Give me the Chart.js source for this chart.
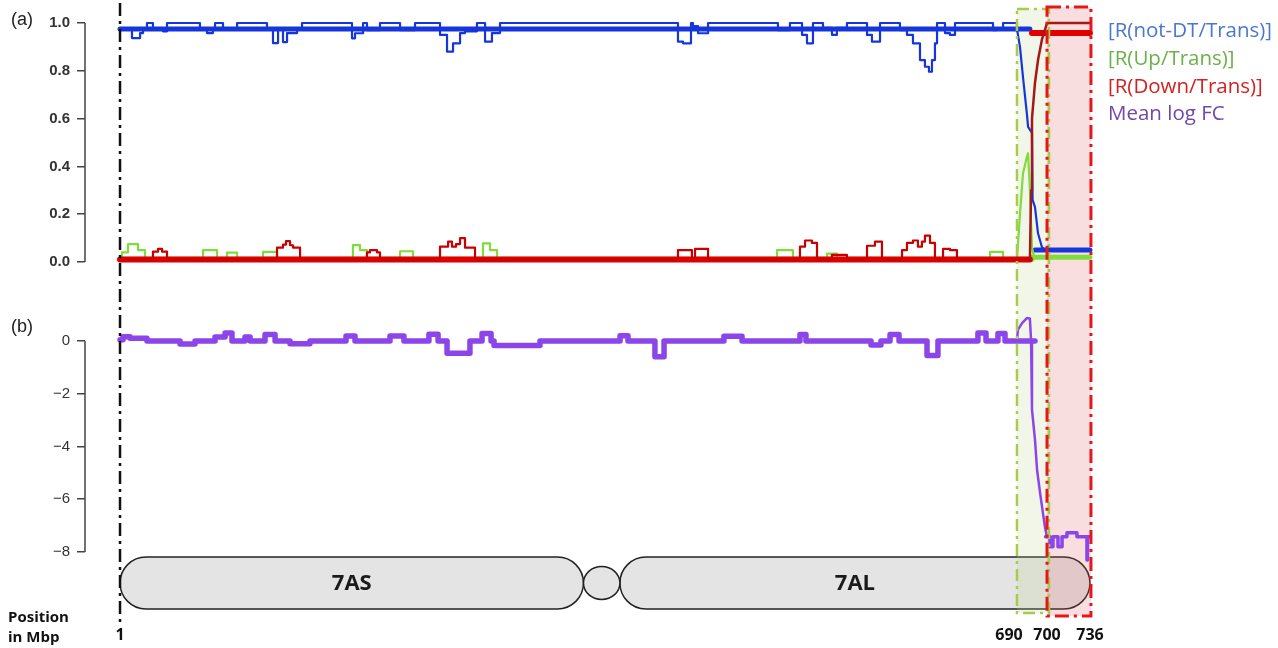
<!DOCTYPE html>
<html>
<head>
<meta charset="utf-8">
<title>Chromosome 7A ratios</title>
<script src="https://cdn.jsdelivr.net/npm/chart.js@4.4.1/dist/chart.umd.min.js"></script>
<style>
  html, body { margin: 0; padding: 0; background: #fff; overflow: hidden; }
  #wrap { position: relative; width: 1278px; height: 648px; overflow: hidden; }
  #myChart { position: absolute; left: 0; top: 0; }
  .lbl { position: absolute; white-space: nowrap; line-height: 1; }
  .key { left: 1108px; font-family: "Open Sans", sans-serif; font-size: 20.5px; }
  .panel { left: 11px; font-family: "Liberation Sans", Arial, sans-serif; font-size: 18px; color: #222; }
  .pos { left: 8px; font-family: "Open Sans", sans-serif; font-size: 15px; font-weight: bold; color: #111; }
</style>
</head>
<body>
<div id="wrap">
  <canvas id="myChart" width="1278" height="648"></canvas>
  <div class="lbl panel" style="top:10px">(a)</div>
  <div class="lbl panel" style="top:317px">(b)</div>
  <div class="lbl pos" style="top:609px">Position</div>
  <div class="lbl pos" style="top:629px">in Mbp</div>
  <div class="lbl key" id="key0" style="top:19px; color:#4a78cc"></div>
  <div class="lbl key" id="key1" style="top:47px; color:#6cb04a"></div>
  <div class="lbl key" id="key2" style="top:75px; color:#d42020"></div>
  <div class="lbl key" id="key3" style="top:102px; color:#7048a8"></div>
</div>
<script>
'use strict'

// axis ticks
const xTickValues = [1, 690, 700, 736];
const ratioTicks = [0, 0.2, 0.4, 0.6, 0.8, 1.0];
const logFcTicks = [0, -2, -4, -6, -8];

const seriesNames = ['[R(not-DT/Trans)]', '[R(Up/Trans)]', '[R(Down/Trans)]', 'Mean log FC'];

// highlighted regions and chromosome arms, in Mbp
const upRegion = [690, 700];
const downRegion = [700, 736];
const chromArmNames = ['7AS', '7AL'];
const chromArmStart = [1, 385];
const chromArmEnd = [357, 736];

// R(not-DT/Trans), window values (step), then the drop after 690 and the wide smoothed line
const notDtPos = [1, 10.2, 16.4, 18.7, 21.7, 26.3, 34.0, 37.1, 62.4, 67.8, 72.4, 74.0, 80.1, 90.9, 113.9, 118.5, 122.4, 126.2, 129.3, 137.0,
  140.8, 179.2, 181.5, 187.7, 190.7, 200.7, 216.1, 227.6, 246.8, 252.2, 256.8, 262.2, 266.0, 275.2, 281.4, 286.7, 292.9, 429.6, 433.5, 439.6,
  441.1, 445.0, 452.7, 506.4, 515.6, 524.9, 528.7, 533.3, 541.0, 547.9, 551.7, 559.4, 574.8, 578.6, 584.8, 600.1, 605.5, 610.1, 615.5, 619.3,
  622.4, 624.7, 627.0, 628.6, 634.7, 638.5, 642.4, 671.6, 674.6, 679.3, 690];
const notDtVal = [0.975, 0.937, 0.958, 0.975, 1.0, 0.975, 0.965, 1.0, 0.975, 0.958, 0.975, 1.0, 0.975, 1.0, 0.975, 0.916, 0.975, 0.92, 0.958, 0.975,
  1.0, 0.936, 0.957, 1.0, 0.97, 1.0, 0.97, 1.0, 0.95, 0.88, 0.915, 0.958, 0.965, 1.0, 0.922, 0.958, 1.0, 0.922, 0.915, 1.0,
  0.987, 0.957, 1.0, 0.97, 1.0, 0.95, 0.915, 1.0, 0.98, 0.95, 0.98, 1.0, 0.95, 0.922, 1.0, 0.97, 0.95, 0.915, 0.845, 0.817,
  0.796, 0.845, 0.915, 1.0, 0.958, 0.95, 1.0, 0.97, 0.975, 1.0, 0.975];
const notDtTailPos = [690, 691, 692, 693.3, 693.7, 695, 695.2, 696, 697, 698.3, 699.3];
const notDtTailVal = [0.975, 0.9, 0.774, 0.62, 0.565, 0.54, 0.26, 0.23, 0.12, 0.063, 0.05];
const notDtWidePos = [1, 694.3, 694.4, 696, 736];
const notDtWideVal = [0.975, 0.975, null, 0.05, 0.05];

// R(Up/Trans)
const upPos = [1, 2.5, 7.1, 14.8, 20.2, 64.8, 75.5, 83.2, 90.9, 110.8, 121.6, 179.9, 185.3, 190.7, 216.1, 226.1, 279.8, 285.2, 290.6, 505.7,
  517.9, 544.1, 551.7, 669.3, 679.3, 690];
const upVal = [0.015, 0.04, 0.075, 0.05, 0.015, 0.05, 0.015, 0.039, 0.015, 0.042, 0.015, 0.071, 0.05, 0.015, 0.045, 0.015, 0.078, 0.05, 0.015, 0.05,
  0.015, 0.035, 0.015, 0.042, 0.015, 0.015];
const upTailPos = [690, 691, 692, 693.3, 693.7, 694.3, 695, 695.7];
const upTailVal = [0.015, 0.2, 0.37, 0.44, 0.455, 0.3, 0.06, 0.02];
const upWidePos = [1, 695, 736];
const upWideVal = [0.012, 0.02, 0.02];

// R(Down/Trans)
const downPos = [1, 26.3, 30.2, 33.3, 37.1, 121.6, 126.2, 128.5, 131.6, 133.9, 139.3, 190.7, 193.0, 198.4, 200.7, 246.8, 253.0, 256.0, 259.1, 262.2,
  266.0, 273.7, 429.6, 440.3, 442.7, 452.7, 523.3, 527.2, 532.5, 536.4, 547.9, 559.4, 574.8, 580.9, 586.3, 601.7, 605.5, 610.1, 613.9, 617.0,
  619.3, 623.2, 627.0, 633.2, 638.5, 643.9, 694.3];
const downVal = [0.01, 0.043, 0.055, 0.043, 0.01, 0.06, 0.073, 0.087, 0.07, 0.06, 0.01, 0.04, 0.05, 0.04, 0.01, 0.064, 0.085, 0.064, 0.075, 0.1,
  0.06, 0.01, 0.05, 0.01, 0.055, 0.01, 0.064, 0.09, 0.08, 0.01, 0.03, 0.01, 0.068, 0.085, 0.01, 0.05, 0.08, 0.09, 0.064, 0.085,
  0.11, 0.08, 0.01, 0.055, 0.05, 0.01, 0.01];
const downTailPos = [694.3, 694.7, 695, 696, 697, 698.3, 700, 736];
const downTailVal = [0.01, 0.3, 0.6, 0.75, 0.845, 0.93, 1.0, 1.0];
const downWidePos = [1, 694.3, 694.4, 695, 736];
const downWideVal = [0.01, 0.01, null, 0.958, 0.958];

// mean log FC (panel b)
const logFcPos = [1, 3.3, 8.7, 21.7, 47.1, 58.6, 74.0, 81.7, 87.0, 97.0, 100.9, 112.4, 120.1, 131.6, 146.9, 174.6, 181.5, 208.4, 219.1, 238.3,
  245.3, 252.2, 269.8, 279.1, 286.0, 288.3, 323.6, 385.1, 391.2, 411.9, 418.9, 464.9, 478.8, 523.3, 527.9, 577.9, 585.5, 592.5, 599.4, 620.9,
  629.3, 660.0, 666.2, 675.4, 680.8, 696];
const logFcVal = [0.05, 0.16, 0.1, 0.0, -0.11, 0.0, 0.15, 0.3, 0.0, 0.15, 0.0, 0.25, 0.0, -0.1, 0.0, 0.19, 0.0, 0.19, 0.0, 0.26,
  0.0, -0.46, 0.0, 0.28, 0.0, -0.17, 0.0, 0.2, 0.0, -0.6, 0.0, 0.18, 0.0, 0.25, 0.0, -0.15, 0.0, 0.25, 0.0, -0.55,
  0.0, 0.3, 0.0, 0.28, 0.0, 0.0];
const logFcTailPos = [690, 690.3, 691.7, 693.3, 694.3, 694.7, 695, 696, 696.7, 697.7, 699.3, 700];
const logFcTailVal = [0.0, 0.42, 0.68, 0.87, 0.85, 0.0, -2.6, -3.75, -4.9, -5.77, -7.05, -7.43];
const logFcEndPos = [699.5, 702.5, 705.0, 709.2, 712.6, 716.7, 725.1, 733.5, 733.9, 736];
const logFcEndVal = [-7.42, -7.8, -7.42, -7.8, -7.42, -7.27, -7.42, -8.3, -7.42, -7.42];

seriesNames.forEach((n, i) => { document.getElementById('key' + i).textContent = n; });

// the figure is not drawn to scale after 690 Mbp, so the x axis is stretched piecewise
const warpKnots = [1, 690, 700, 736];
const warpPlaces = [0.0345, 0.9182, 0.9478, 0.9901];

function warp(v) {
  let i = 0;
  while (i < warpKnots.length - 2 && v > warpKnots[i + 1]) i++;
  const t = (v - warpKnots[i]) / (warpKnots[i + 1] - warpKnots[i]);
  return warpPlaces[i] + t * (warpPlaces[i + 1] - warpPlaces[i]);
}

function unwarp(d) {
  let i = 0;
  while (i < warpPlaces.length - 2 && d > warpPlaces[i + 1]) i++;
  const t = (d - warpPlaces[i]) / (warpPlaces[i + 1] - warpPlaces[i]);
  return warpKnots[i] + t * (warpKnots[i + 1] - warpKnots[i]);
}

class WarpScale extends Chart.LinearScale {
  getPixelForValue(value) {
    if (value === null || value === undefined) return NaN;
    return this.getPixelForDecimal(warp(value));
  }
  getValueForPixel(pixel) {
    return unwarp(this.getDecimalForPixel(pixel));
  }
}
WarpScale.id = 'warp';
Chart.register(WarpScale);

function pts(pos, vals) {
  return pos.map((p, i) => ({ x: p, y: vals[i] }));
}

function line(pos, vals, color, width, axis, stepped, order) {
  return {
    data: pts(pos, vals),
    borderColor: color,
    borderWidth: width,
    yAxisID: axis,
    stepped: stepped,
    order: order,
    pointRadius: 0,
    borderJoinStyle: 'round',
    borderCapStyle: 'round',
    fill: false
  };
}

// fixed sizes so the plot area lands where the figure has it
function fitY(s) {
  s.width = 85;
  s.paddingTop = 0;
  s.paddingBottom = 0;
}

function fitX(s) {
  s.height = 33;
  s.paddingLeft = 0;
  s.paddingRight = 0;
}

const blue = '#1636dc';
const green = '#7fdc3c';
const red = '#e00000';

function capsule(ctx, x0, x1, top, bottom) {
  const r = (bottom - top) / 2;
  ctx.beginPath();
  ctx.moveTo(x0 + r, top);
  ctx.lineTo(x1 - r, top);
  ctx.arc(x1 - r, top + r, r, -Math.PI / 2, Math.PI / 2);
  ctx.lineTo(x0 + r, bottom);
  ctx.arc(x0 + r, top + r, r, Math.PI / 2, Math.PI * 1.5);
  ctx.closePath();
}

const decorPlugin = {
  id: 'decor',
  beforeDatasetsDraw(chart) {
    const ctx = chart.ctx;
    const area = chart.chartArea;
    const xs = chart.scales.x;
    ctx.save();

    // chromosome 7A
    const top = area.bottom - 58, bottom = area.bottom - 6;
    ctx.lineWidth = 1.5;
    ctx.strokeStyle = '#222';
    ctx.fillStyle = '#e4e4e4';
    for (let i = 0; i < chromArmNames.length; i++) {
      capsule(ctx, xs.getPixelForValue(chromArmStart[i]), xs.getPixelForValue(chromArmEnd[i]), top, bottom);
      ctx.fill();
      ctx.stroke();
    }
    const c0 = xs.getPixelForValue(chromArmEnd[0]), c1 = xs.getPixelForValue(chromArmStart[1]);
    ctx.beginPath();
    ctx.ellipse((c0 + c1) / 2, (top + bottom) / 2, (c1 - c0) / 2, 16.5, 0, 0, Math.PI * 2);
    ctx.fill();
    ctx.stroke();
    ctx.fillStyle = '#1a1a1a';
    ctx.font = 'bold 22px "Open Sans"';
    ctx.textAlign = 'center';
    ctx.textBaseline = 'middle';
    for (let i = 0; i < chromArmNames.length; i++) {
      const mid = (xs.getPixelForValue(chromArmStart[i]) + xs.getPixelForValue(chromArmEnd[i])) / 2;
      ctx.fillText(chromArmNames[i], mid, (top + bottom) / 2 + 1);
    }

    // shaded regions
    const ux0 = xs.getPixelForValue(upRegion[0]), ux1 = xs.getPixelForValue(upRegion[1]);
    const dx0 = xs.getPixelForValue(downRegion[0]), dx1 = xs.getPixelForValue(downRegion[1]);
    ctx.fillStyle = 'rgba(185, 212, 140, 0.2)';
    ctx.fillRect(ux0, area.top + 4, ux1 - ux0 + 2, area.bottom - area.top - 6);
    ctx.fillStyle = 'rgba(220, 90, 90, 0.2)';
    ctx.fillRect(dx0, area.top + 2, dx1 - dx0 + 1, area.bottom - area.top - 1);
    ctx.restore();
  },
  afterDatasetsDraw(chart) {
    const ctx = chart.ctx;
    const area = chart.chartArea;
    const xs = chart.scales.x;
    ctx.save();

    // R style axis lines, only from first to last tick
    ctx.strokeStyle = '#444';
    ctx.lineWidth = 1.5;
    ['y', 'y2'].forEach(id => {
      const s = chart.scales[id];
      const t = s.ticks;
      ctx.beginPath();
      ctx.moveTo(s.right, s.getPixelForValue(t[0].value));
      ctx.lineTo(s.right, s.getPixelForValue(t[t.length - 1].value));
      ctx.stroke();
    });

    // region outlines
    const ux0 = xs.getPixelForValue(upRegion[0]), ux1 = xs.getPixelForValue(upRegion[1]) + 2;
    ctx.setLineDash([12, 5, 3, 5]);
    ctx.strokeStyle = '#a8cc4a';
    ctx.lineWidth = 2.5;
    ctx.strokeRect(ux0, area.top + 4, ux1 - ux0, area.bottom - area.top - 6);

    const dx0 = xs.getPixelForValue(downRegion[0]), dx1 = xs.getPixelForValue(downRegion[1]) + 1;
    ctx.setLineDash([14, 5, 3, 5]);
    ctx.strokeStyle = '#e8161b';
    ctx.lineWidth = 3;
    ctx.strokeRect(dx0, area.top + 2, dx1 - dx0, area.bottom - area.top - 1);

    // start of the chromosome
    const sx = xs.getPixelForValue(xTickValues[0]);
    ctx.setLineDash([13, 5, 3, 5]);
    ctx.strokeStyle = '#111';
    ctx.lineWidth = 2.5;
    ctx.beginPath();
    ctx.moveTo(sx, area.top - 2);
    ctx.lineTo(sx, area.bottom + 10);
    ctx.stroke();
    ctx.restore();
  }
};

const ctx = document.getElementById('myChart').getContext('2d');

const myChart = new Chart(ctx, {
  type: 'line',
  data: {
    datasets: [
      line(downPos, downVal, '#c80000', 2.2, 'y', true, 0),
      line(downTailPos, downTailVal, '#a51818', 2.5, 'y', false, 1),
      line(downWidePos, downWideVal, red, 6, 'y', true, 2),
      line(upPos, upVal, green, 2.2, 'y', true, 3),
      line(upTailPos, upTailVal, green, 2.2, 'y', false, 4),
      line(upWidePos, upWideVal, green, 5, 'y', true, 5),
      line(notDtPos, notDtVal, blue, 2.2, 'y', true, 6),
      line(notDtTailPos, notDtTailVal, blue, 2.2, 'y', false, 7),
      line(notDtWidePos, notDtWideVal, blue, 5, 'y', true, 8),
      line(logFcPos, logFcVal, '#8b45e8', 5.5, 'y2', true, 9),
      line(logFcTailPos, logFcTailVal, '#8b45e8', 2.5, 'y2', false, 10),
      line(logFcEndPos, logFcEndVal, '#8b45e8', 3.5, 'y2', true, 11)
    ]
  },
  options: {
    responsive: false,
    animation: false,
    devicePixelRatio: 1,
    layout: { padding: { top: 5, right: 178, left: 0, bottom: 0 } },
    plugins: { legend: { display: false }, tooltip: { enabled: false } },
    scales: {
      x: {
        type: 'warp',
        min: 1,
        max: 736,
        afterBuildTicks: s => { s.ticks = xTickValues.map(v => ({ value: v })); },
        afterFit: fitX,
        border: { display: false },
        grid: { display: false, drawTicks: false },
        ticks: {
          autoSkip: false, maxRotation: 0, padding: 11, color: '#111',
          font: { family: 'Open Sans', size: 16, weight: 'bold' },
          // the 690 label sits a little left of its line in the figure
          callback: v => (v === 690 ? '690\u2003' : String(v))
        }
      },
      y: {
        position: 'left',
        stack: 'panels',
        stackWeight: 295,
        weight: 2,
        min: -0.159,
        max: 1.0753,
        afterBuildTicks: s => { s.ticks = ratioTicks.map(v => ({ value: v })); },
        afterFit: fitY,
        border: { display: false },
        grid: { drawOnChartArea: false, color: '#444', lineWidth: 1.5, tickLength: 8 },
        ticks: {
          padding: 7, color: '#333',
          font: { family: 'Liberation Sans', size: 15, weight: 'bold' },
          callback: v => Number(v).toFixed(1)
        }
      },
      y2: {
        position: 'left',
        stack: 'panels',
        stackWeight: 315,
        weight: 1,
        min: -10.389,
        max: 1.5545,
        afterBuildTicks: s => { s.ticks = logFcTicks.map(v => ({ value: v })); },
        afterFit: fitY,
        border: { display: false },
        grid: { drawOnChartArea: false, color: '#444', lineWidth: 1.5, tickLength: 8 },
        ticks: {
          padding: 7, color: '#333',
          font: { family: 'Liberation Sans', size: 15 },
          callback: v => (v < 0 ? '\u2212' + Math.abs(v) : String(v))
        }
      }
    }
  },
  plugins: [decorPlugin]
});
</script>
</body>
</html>
